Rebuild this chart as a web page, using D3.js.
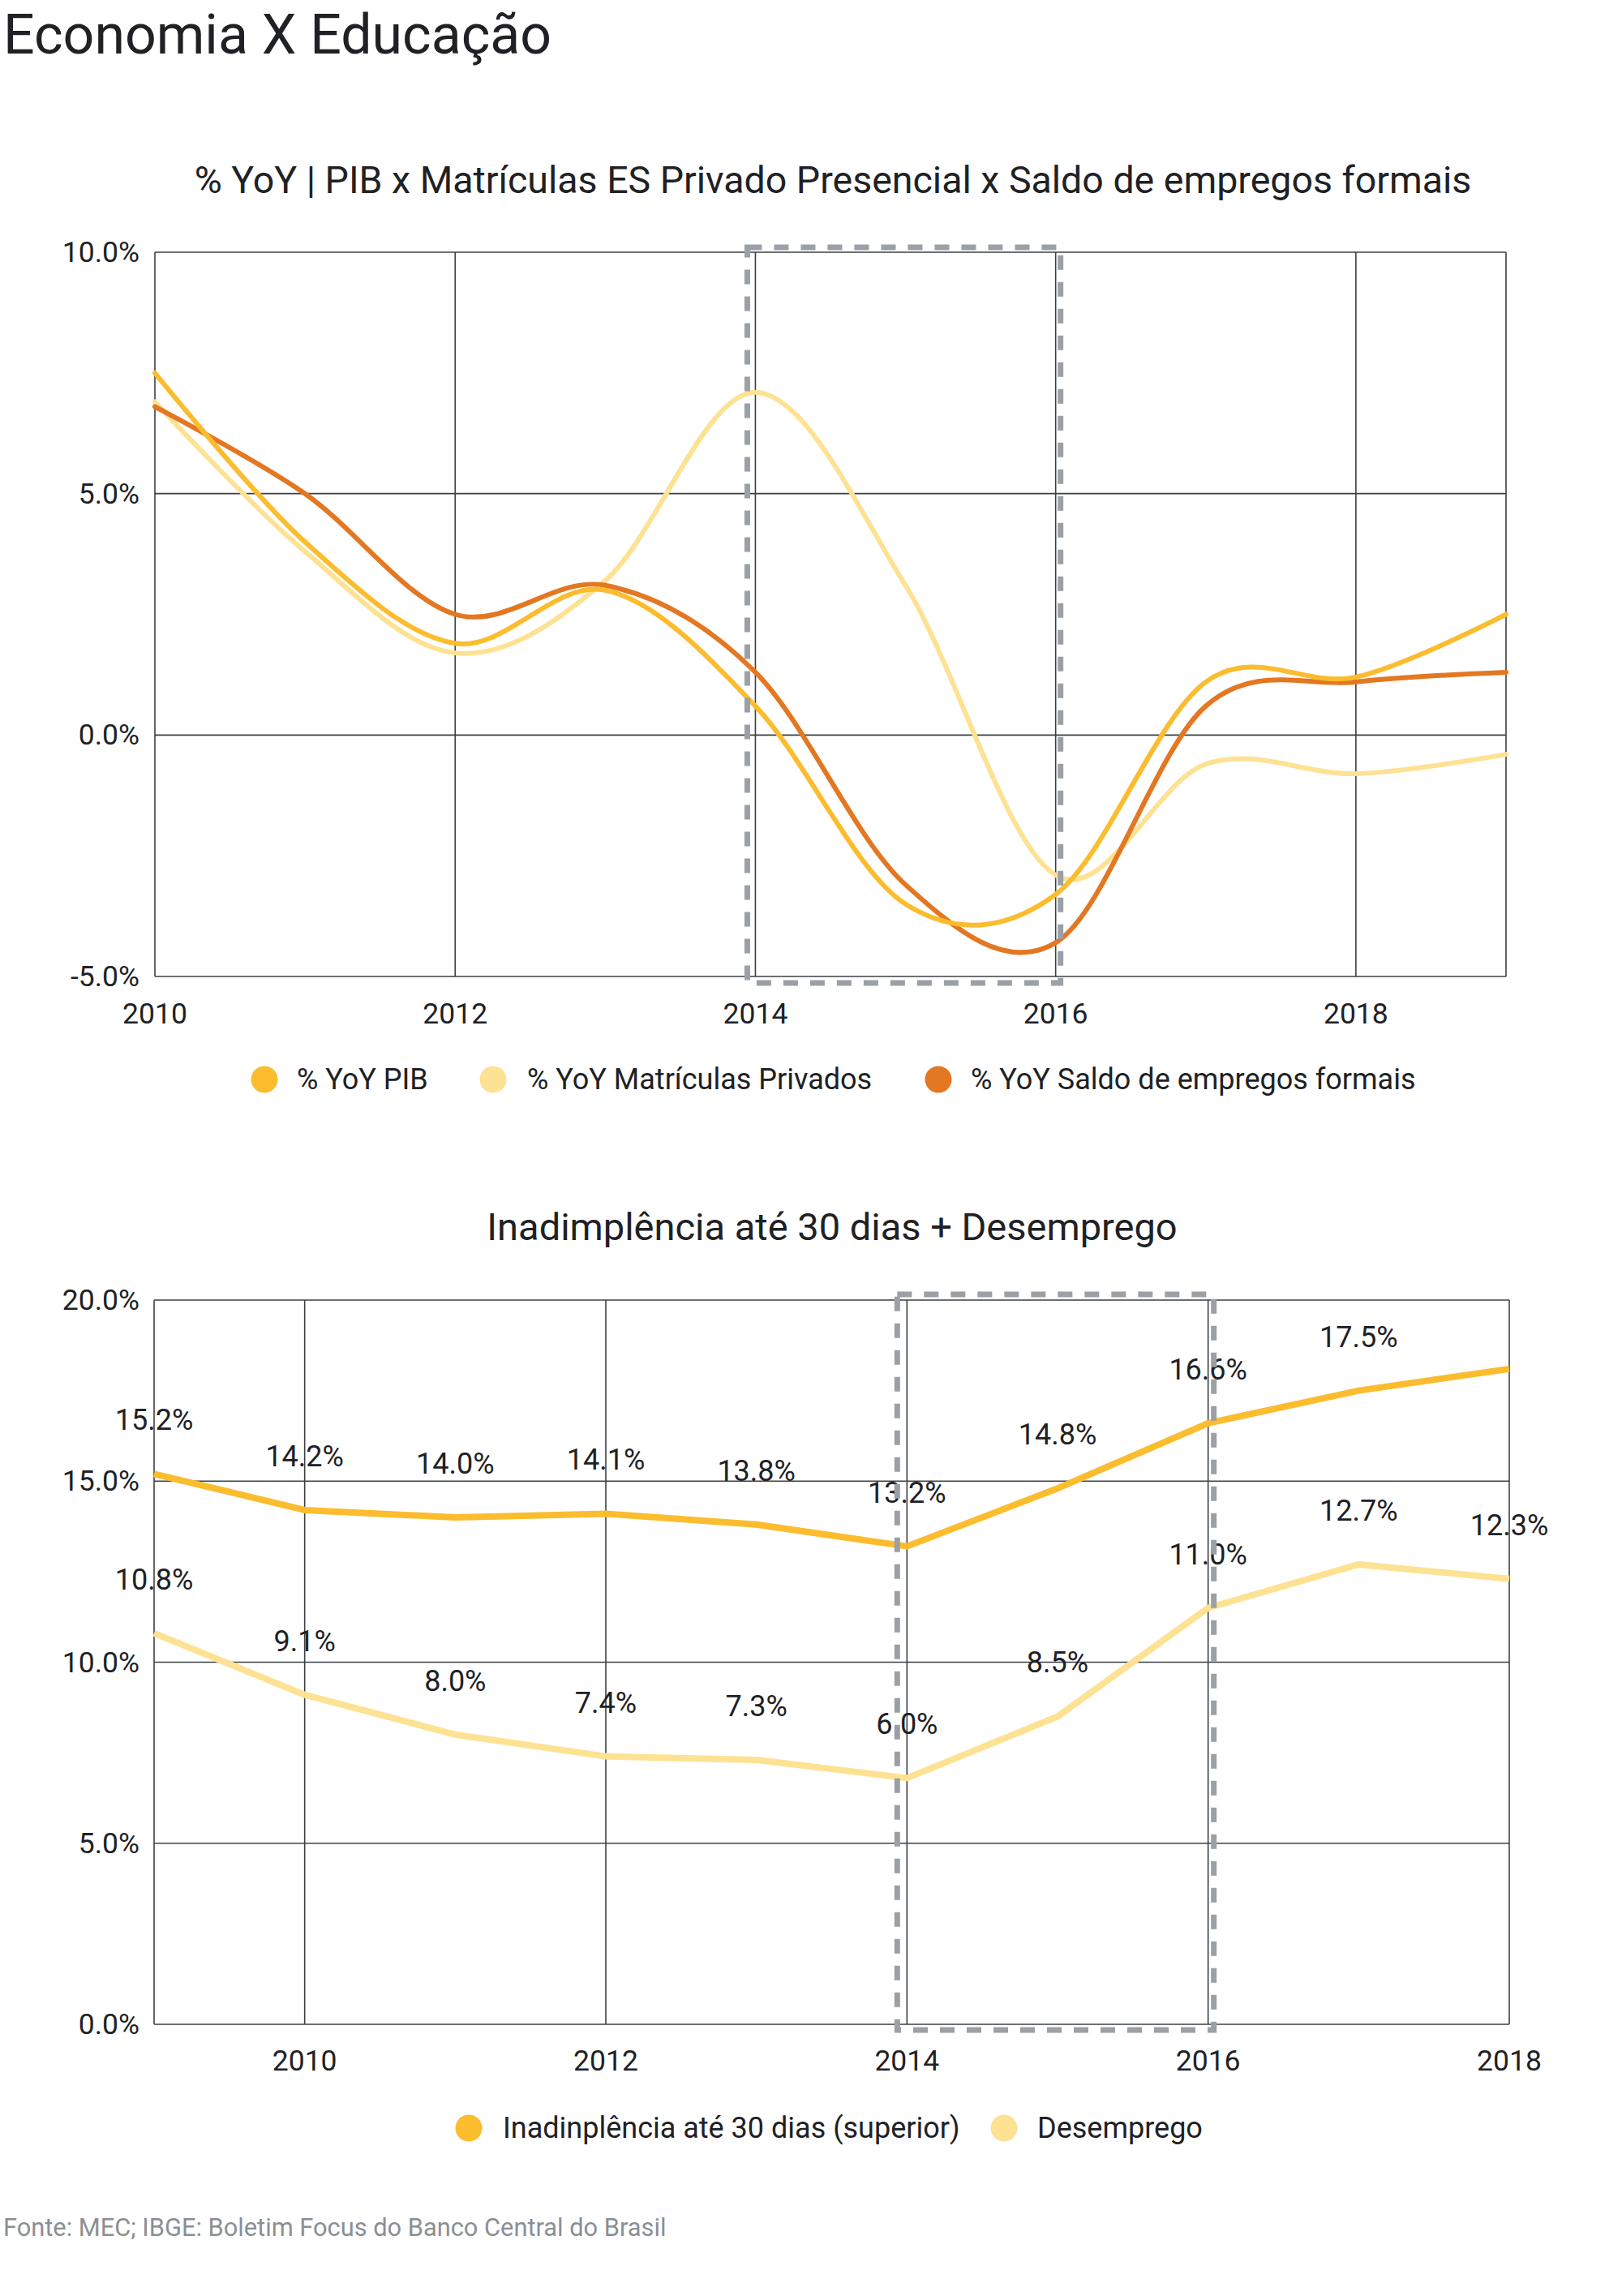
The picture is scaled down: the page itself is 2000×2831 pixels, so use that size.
<!DOCTYPE html>
<html><head><meta charset="utf-8">
<script src="https://cdn.jsdelivr.net/npm/d3@7"></script>
<style>
body{margin:0;background:#fff;}
text{font-family:Roboto,"Noto Sans",sans-serif;fill:#202124;}
</style>
</head><body>
<svg id="c" width="2000" height="2831"></svg>
<script>
// ---------- DATA ----------
const years1 = [2010, 2011, 2012, 2013, 2014, 2015, 2016, 2017, 2018, 2019];
const pib = [7.5, 4.0, 1.9, 3.0, 0.6, -3.5, -3.3, 1.1, 1.2, 2.5];
const matriculas = [6.9, 3.8, 1.7, 3.2, 7.1, 3.1, -2.9, -0.6, -0.8, -0.4];
const empregos = [6.8, 5.0, 2.5, 3.1, 1.3, -3.1, -4.3, 0.6, 1.1, 1.3];
const series1Names = ["% YoY PIB", "% YoY Matrículas Privados", "% YoY Saldo de empregos formais"];
const yTicks1 = [-5, 0, 5, 10];
const xTicks1 = [2010, 2012, 2014, 2016, 2018];

const years2 = [2009, 2010, 2011, 2012, 2013, 2014, 2015, 2016, 2017, 2018];
const inadimplencia = [15.2, 14.2, 14.0, 14.1, 13.8, 13.2, 14.8, 16.6, 17.5, 18.1];
const inadLabels = ["15.2%", "14.2%", "14.0%", "14.1%", "13.8%", "13.2%", "14.8%", "16.6%", "17.5%", ""];
const desemprego = [10.8, 9.1, 8.0, 7.4, 7.3, 6.8, 8.5, 11.5, 12.7, 12.3];
const desempLabels = ["10.8%", "9.1%", "8.0%", "7.4%", "7.3%", "6.0%", "8.5%", "11.0%", "12.7%", "12.3%"];
const series2Names = ["Inadinplência até 30 dias (superior)", "Desemprego"];
const yTicks2 = [0, 5, 10, 15, 20];
const xTicks2 = [2010, 2012, 2014, 2016, 2018];
const highlightYears = [2014, 2016];

// ---------- STYLE ----------
const C_PIB = "#FBBC2E", C_MAT = "#FDE293", C_EMP = "#E37722";
const GRID = "#3c4043", DASH = "#9AA0A6";
const fmt = v => v.toFixed(1) + "%";

const svg = d3.select("#c");

// Main title
svg.append("text").attr("x", 4).attr("y", 66).attr("font-size", 68).text("Economia X Educação");

// ================= CHART 1 =================
{
  const L = 191, R = 1857, T = 311, B = 1204;
  const x = d3.scaleLinear().domain([2010, 2019]).range([L, R]);
  const y = d3.scaleLinear().domain([-5, 10]).range([B, T]);
  const g = svg.append("g");

  g.append("text").attr("x", 1027).attr("y", 238).attr("text-anchor", "middle")
    .attr("font-size", 46.5).text("% YoY | PIB x Matrículas ES Privado Presencial x Saldo de empregos formais");

  g.selectAll(".hg").data(yTicks1).join("line")
    .attr("x1", L).attr("x2", R).attr("y1", d => y(d)).attr("y2", d => y(d))
    .attr("stroke", GRID).attr("stroke-width", 1.6);
  g.selectAll(".vg").data(xTicks1.concat([2019])).join("line")
    .attr("x1", d => x(d)).attr("x2", d => x(d)).attr("y1", T).attr("y2", B)
    .attr("stroke", GRID).attr("stroke-width", 1.6);

  g.selectAll(".yl").data(yTicks1).join("text")
    .attr("x", 172).attr("y", d => y(d)).attr("text-anchor", "end")
    .attr("dominant-baseline", "central").attr("font-size", 35.5).text(fmt);
  g.selectAll(".xl").data(xTicks1).join("text")
    .attr("x", d => x(d)).attr("y", 1262).attr("text-anchor", "middle")
    .attr("font-size", 35.5).text(d => d);

  const line = d3.line().x((d, i) => x(years1[i])).y(d => y(d)).curve(d3.curveCardinal.tension(0));
  [[matriculas, C_MAT], [empregos, C_EMP], [pib, C_PIB]].forEach(([s, c]) => {
    g.append("path").attr("d", line(s)).attr("fill", "none").attr("stroke", c)
      .attr("stroke-width", 6).attr("stroke-linecap", "round").attr("stroke-linejoin", "round");
  });

  g.append("rect").attr("x", x(highlightYears[0]) - 10).attr("y", T - 6)
    .attr("width", x(highlightYears[1]) + 6 - (x(highlightYears[0]) - 10)).attr("height", B - T + 14)
    .attr("fill", "none").attr("stroke", DASH).attr("stroke-width", 7).attr("stroke-dasharray", "18 15");

  const lg = [{cx: 326, tx: 366}, {cx: 608, tx: 650}, {cx: 1157, tx: 1197}];
  const cols = [C_PIB, C_MAT, C_EMP];
  series1Names.forEach((n, i) => {
    g.append("circle").attr("cx", lg[i].cx).attr("cy", 1331).attr("r", 16.5).attr("fill", cols[i]);
    g.append("text").attr("x", lg[i].tx).attr("y", 1331).attr("dominant-baseline", "central")
      .attr("font-size", 36).text(n);
  });
}

// ================= CHART 2 =================
{
  const L = 190, R = 1861, T = 1603, B = 2496;
  const x = d3.scaleLinear().domain([2009, 2018]).range([L, R]);
  const y = d3.scaleLinear().domain([0, 20]).range([B, T]);
  const g = svg.append("g");

  g.append("text").attr("x", 1026).attr("y", 1529).attr("text-anchor", "middle")
    .attr("font-size", 47).text("Inadimplência até 30 dias + Desemprego");

  g.selectAll(".hg").data(yTicks2).join("line")
    .attr("x1", L).attr("x2", R).attr("y1", d => y(d)).attr("y2", d => y(d))
    .attr("stroke", GRID).attr("stroke-width", 1.6);
  g.selectAll(".vg").data([2009].concat(xTicks2)).join("line")
    .attr("x1", d => x(d)).attr("x2", d => x(d)).attr("y1", T).attr("y2", B)
    .attr("stroke", GRID).attr("stroke-width", 1.6);

  g.selectAll(".yl").data(yTicks2).join("text")
    .attr("x", 172).attr("y", d => y(d)).attr("text-anchor", "end")
    .attr("dominant-baseline", "central").attr("font-size", 35.5).text(fmt);
  g.selectAll(".xl").data(xTicks2).join("text")
    .attr("x", d => x(d)).attr("y", 2541).attr("text-anchor", "middle")
    .attr("dominant-baseline", "central").attr("font-size", 35.5).text(d => d);

  const line = d3.line().x((d, i) => x(years2[i])).y(d => y(d));
  [[desemprego, C_MAT], [inadimplencia, C_PIB]].forEach(([s, c]) => {
    g.append("path").attr("d", line(s)).attr("fill", "none").attr("stroke", c)
      .attr("stroke-width", 8).attr("stroke-linejoin", "round");
  });

  g.selectAll(".l1").data(inadimplencia).join("text")
    .attr("x", (d, i) => x(years2[i])).attr("y", d => y(d) - 66)
    .attr("text-anchor", "middle").attr("dominant-baseline", "central")
    .attr("font-size", 36).text((d, i) => inadLabels[i]);
  g.selectAll(".l2").data(desemprego).join("text")
    .attr("x", (d, i) => x(years2[i])).attr("y", d => y(d) - 66)
    .attr("text-anchor", "middle").attr("dominant-baseline", "central")
    .attr("font-size", 36).text((d, i) => desempLabels[i]);

  g.append("rect").attr("x", x(highlightYears[0]) - 12).attr("y", T - 7)
    .attr("width", x(highlightYears[1]) + 7 - (x(highlightYears[0]) - 12)).attr("height", B - T + 14)
    .attr("fill", "none").attr("stroke", DASH).attr("stroke-width", 7).attr("stroke-dasharray", "18 15");

  const lg = [{cx: 578, tx: 620}, {cx: 1238, tx: 1279}];
  const cols = [C_PIB, C_MAT];
  series2Names.forEach((n, i) => {
    g.append("circle").attr("cx", lg[i].cx).attr("cy", 2624).attr("r", 16.5).attr("fill", cols[i]);
    g.append("text").attr("x", lg[i].tx).attr("y", 2624).attr("dominant-baseline", "central")
      .attr("font-size", 36).text(n);
  });
}

svg.append("text").attr("x", 4).attr("y", 2757).attr("font-size", 30.8).style("fill", "#8a8f94")
  .text("Fonte: MEC; IBGE: Boletim Focus do Banco Central do Brasil");
</script>
</body></html>
